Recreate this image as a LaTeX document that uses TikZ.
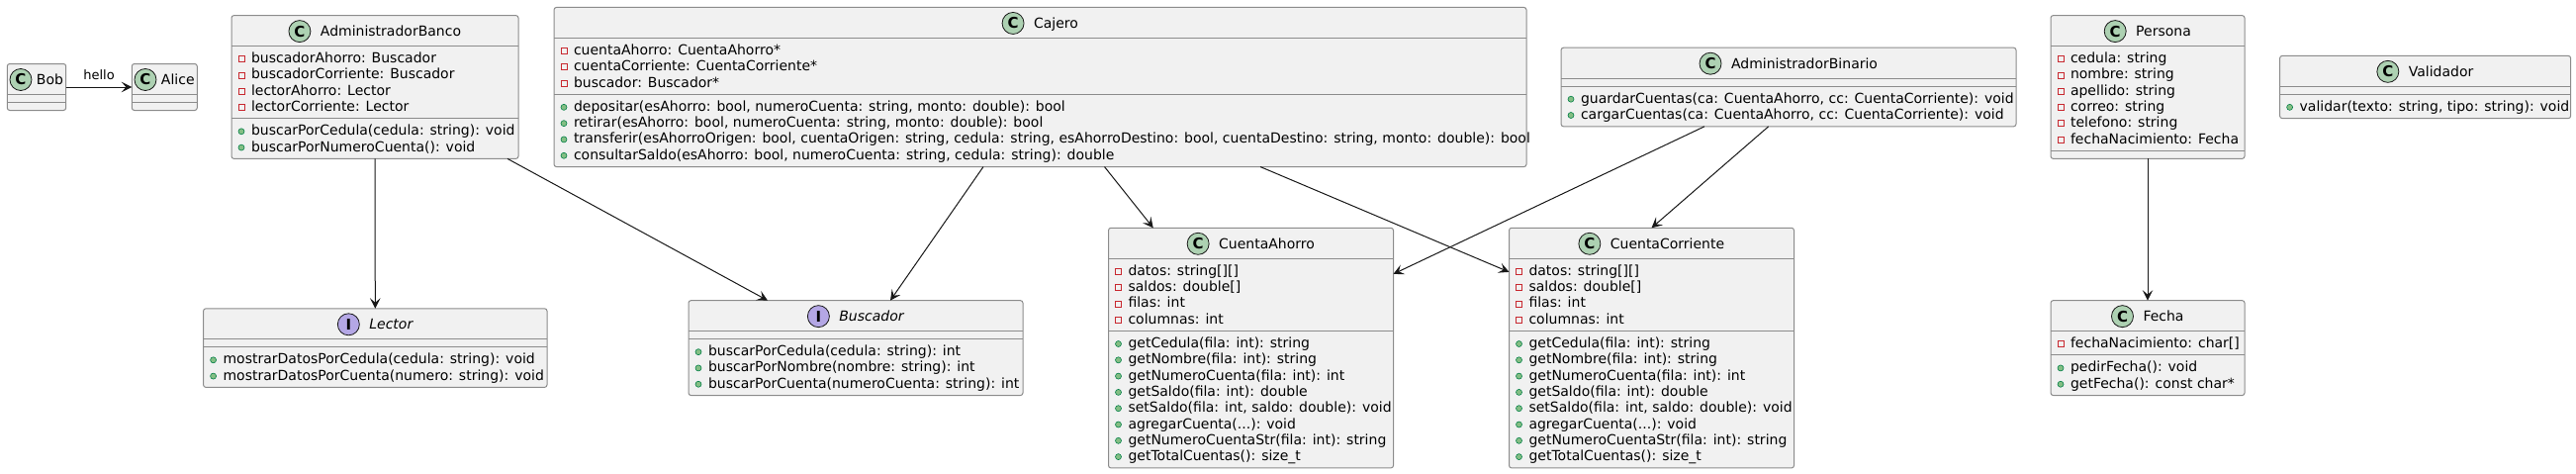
\documentclass[tikz,border=0pt]{standalone}
\usepackage{fontspec}
\setmainfont{DejaVu Sans}
\usetikzlibrary{arrows.meta,calc}
\definecolor{boxfill}{HTML}{F1F1F1}
\definecolor{boxline}{HTML}{8C8C8C}
\definecolor{arrowc}{HTML}{181818}
\definecolor{spotc}{HTML}{ADD1B2}
\definecolor{spoti}{HTML}{B4A7E5}
\definecolor{privred}{HTML}{C82930}
\definecolor{pubfill}{HTML}{84BE84}
\definecolor{publine}{HTML}{038048}
\tikzset{
 classbox/.style={rectangle, draw=boxline, fill=boxfill, line width=1pt, rounded corners=2.5pt, inner sep=0pt, outer sep=0pt},
 sepline/.style={draw=boxline, line width=1pt},
 member/.style={inner sep=0pt, outer sep=0pt, font=\fontsize{14}{16}\selectfont, text=black},
 titletext/.style={member},
 spotC/.style={circle, draw=arrowc, line width=0.8pt, fill=spotc, minimum size=22pt, inner sep=0pt, font=\fontsize{15}{16}\selectfont\bfseries},
 spotI/.style={spotC, fill=spoti},
 privicon/.style={draw=privred, line width=0.8pt},
 pubicon/.style={draw=publine, fill=pubfill, line width=0.6pt},
 uarrow/.style={draw=arrowc, line width=1pt, -{Stealth[length=10.5pt,width=10.5pt,inset=4.5pt]}},
}
% #1 name, #2 left x, #3 centre y, #4 width, #5 n attrs, #6 n methods, #7 attrs, #8 methods
\newcommand{\umlclass}[8]{%
  \pgfmathsetmacro\hA{8+16.3*#5}%
  \pgfmathsetmacro\hM{8+16.3*#6}%
  \pgfmathsetmacro\hH{31+\hA+\hM}%
  \pgfmathsetmacro\yT{#3-\hH/2}%
  \node[classbox, minimum width=#4pt, minimum height=\hH pt, anchor=north west] (#1) at (#2,\yT) {};
  \draw[sepline] (#2,\yT+31) -- ++(#4,0);
  \draw[sepline] (#2,\yT+31+\hA) -- ++(#4,0);
  \ifnum#5>0
  \foreach \mtext [count=\i] in {#7} {%
    \pgfmathsetmacro\yB{\yT+31+17+16.3*(\i-1)}
    \node[member, anchor=base west] (#1-a\i) at (#2+20,\yB) {\mtext};
    \draw[privicon] (#2+7,\yB-7) rectangle ++(6,6);
  }\fi
  \ifnum#6>0
  \foreach \mtext [count=\i] in {#8} {%
    \pgfmathsetmacro\yB{\yT+31+\hA+17+16.3*(\i-1)}
    \node[member, anchor=base west] (#1-m\i) at (#2+20,\yB) {\mtext};
    \filldraw[pubicon] (#2+10,\yB-4) circle[radius=3pt];
  }\fi
}
% #1 name, #2 spot style, #3 letter, #4 text, #5 gap
\newcommand{\umltitle}[5]{%
  \node[titletext, anchor=base] (#1-t) at ([xshift={(22+#5)/2}, yshift=-21pt]#1.north) {#4};
  \node[#2] (#1-s) at ([xshift={-(11+#5)}, yshift=5pt]#1-t.base west) {#3};
}
\begin{document}
\begin{tikzpicture}[x=1pt,y=-1pt]
\fill[white] (0,0) rectangle (2604,479);
\useasboundingbox (0,0) rectangle (2604,479);

% rank 1
\umlclass{bob}{7.3}{88}{59.4}{0}{0}{}{}
\umltitle{bob}{spotC}{C}{Bob}{5}
\umlclass{alice}{133.3}{88}{66}{0}{0}{}{}
\umltitle{alice}{spotC}{C}{Alice}{5}

\umlclass{banco}{234}{88}{290}{4}{2}%
 {{buscadorAhorro: Buscador},{buscadorCorriente: Buscador},{lectorAhorro: Lector},{lectorCorriente: Lector}}%
 {{buscarPorCedula(cedula: string): void},{buscarPorNumeroCuenta(): void}}
\umltitle{banco}{spotC}{C}{AdministradorBanco}{10}

\umlclass{cajero}{560}{88}{983}{3}{4}%
 {{cuentaAhorro: CuentaAhorro*},{cuentaCorriente: CuentaCorriente*},{buscador: Buscador*}}%
 {{depositar(esAhorro: bool, numeroCuenta: string, monto: double): bool},{retirar(esAhorro: bool, numeroCuenta: string, monto: double): bool},{transferir(esAhorroOrigen: bool, cuentaOrigen: string, cedula: string, esAhorroDestino: bool, cuentaDestino: string, monto: double): bool},{consultarSaldo(esAhorro: bool, numeroCuenta: string, cedula: string): double}}
\umltitle{cajero}{spotC}{C}{Cajero}{10}

\umlclass{binario}{1578}{88}{460}{0}{2}{}%
 {{guardarCuentas(ca: CuentaAhorro, cc: CuentaCorriente): void},{cargarCuentas(ca: CuentaAhorro, cc: CuentaCorriente): void}}
\umltitle{binario}{spotC}{C}{AdministradorBinario}{10}

\umlclass{persona}{2073}{88}{196}{6}{0}%
 {{cedula: string},{nombre: string},{apellido: string},{correo: string},{telefono: string},{fechaNacimiento: Fecha}}{}
\umltitle{persona}{spotC}{C}{Persona}{10}

\umlclass{validador}{2304.6}{88}{294}{0}{1}{}%
 {{validar(texto: string, tipo: string): void}}
\umltitle{validador}{spotC}{C}{Validador}{10}

% rank 2
\umlclass{lector}{205.6}{351.6}{347.4}{0}{2}{}%
 {{mostrarDatosPorCedula(cedula: string): void},{mostrarDatosPorCuenta(numero: string): void}}
\umltitle{lector}{spotI}{I}{\itshape Lector}{10}

\umlclass{buscador}{696}{351.6}{338}{0}{3}{}%
 {{buscarPorCedula(cedula: string): int},{buscarPorNombre(nombre: string): int},{buscarPorCuenta(numeroCuenta: string): int}}
\umltitle{buscador}{spotI}{I}{\itshape Buscador}{10}

\umlclass{ahorro}{1120.5}{351.6}{288}{4}{8}%
 {{datos: string[][]},{saldos: double[]},{filas: int},{columnas: int}}%
 {{getCedula(fila: int): string},{getNombre(fila: int): string},{getNumeroCuenta(fila: int): int},{getSaldo(fila: int): double},{setSaldo(fila: int, saldo: double): void},{agregarCuenta(.{}.{}.): void},{getNumeroCuentaStr(fila: int): string},{getTotalCuentas(): size\_t}}
\umltitle{ahorro}{spotC}{C}{CuentaAhorro}{10}

\umlclass{corriente}{1525.5}{351.6}{288}{4}{8}%
 {{datos: string[][]},{saldos: double[]},{filas: int},{columnas: int}}%
 {{getCedula(fila: int): string},{getNombre(fila: int): string},{getNumeroCuenta(fila: int): int},{getSaldo(fila: int): double},{setSaldo(fila: int, saldo: double): void},{agregarCuenta(.{}.{}.): void},{getNumeroCuentaStr(fila: int): string},{getTotalCuentas(): size\_t}}
\umltitle{corriente}{spotC}{C}{CuentaCorriente}{10}

\umlclass{fecha}{2073}{351.6}{196}{1}{2}%
 {{fechaNacimiento: char[]}}%
 {{pedirFecha(): void},{getFecha(): const char*}}
\umltitle{fecha}{spotC}{C}{Fecha}{10}

% connectors
\draw[uarrow] (bob.east) -- node[member, font=\fontsize{13}{15}\selectfont, above=7pt] (hello) {hello} (alice.west);
\draw[uarrow] (banco.south) -- (lector.north);
\draw[uarrow] ([xshift=134pt]banco.south) -- ([xshift=-89pt]buscador.north);
\draw[uarrow] ([xshift=-57.5pt]cajero.south) -- ([xshift=35pt]buscador.north);
\draw[uarrow] ([xshift=65pt]cajero.south) -- ([xshift=-98.75pt]ahorro.north);
\draw[uarrow] ([xshift=222.5pt]cajero.south) -- ([yshift=-44.6pt]corriente.north west);
\draw[uarrow] ([xshift=-85pt]binario.south) -- ([yshift=-46.6pt]ahorro.north east);
\draw[uarrow] ([xshift=-20.3pt]binario.south) -- (corriente.north);
\draw[uarrow] (persona.south) -- (fecha.north);
\end{tikzpicture}
\end{document}
